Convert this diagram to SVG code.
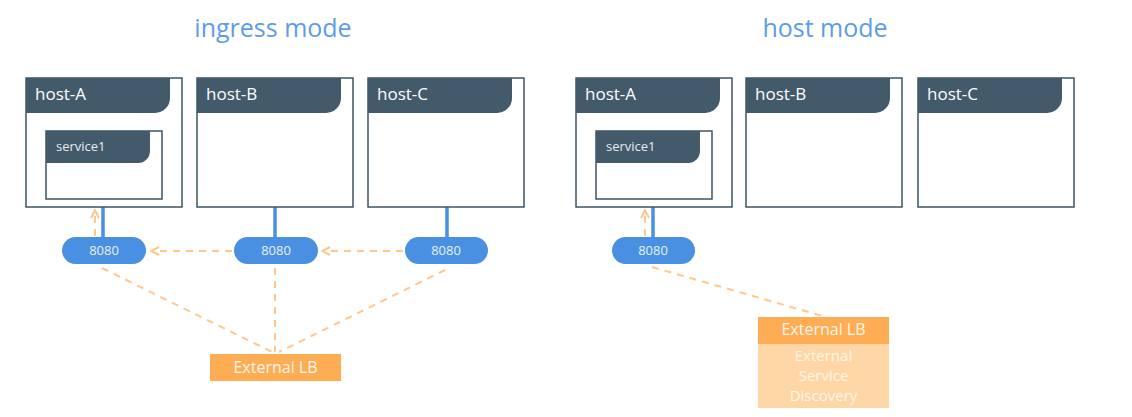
<svg xmlns="http://www.w3.org/2000/svg" width="1132" height="417" viewBox="0 0 1132 417">
<defs>
<style>
.title{font-family:"Open Sans","Liberation Sans",sans-serif;font-size:25px;fill:#5D9CE8;text-anchor:middle}
.host{fill:#fff;stroke:#3E5465;stroke-width:1.5}
.hdr{fill:#435A6B}
.hl{font-family:"Open Sans","Liberation Sans",sans-serif;font-size:17px;fill:#fff}
.sl{font-family:"Open Sans","Liberation Sans",sans-serif;font-size:13px;fill:#E6EBEF}
.pill{fill:#4A90E2}
.pt{font-family:"Open Sans","Liberation Sans",sans-serif;font-size:13px;fill:#E8F1FC;text-anchor:middle}
.blue{stroke:#4A90E2;stroke-width:3.5}
.dash{stroke:#FFC78C;stroke-width:2;stroke-dasharray:7 6;fill:none}
.lb{fill:#FFAD55}
.sd{fill:#FFD6A5}
.lt{font-family:"Open Sans","Liberation Sans",sans-serif;font-size:16px;fill:#FFF6EA;text-anchor:middle}
.st{font-family:"Open Sans","Liberation Sans",sans-serif;font-size:15px;fill:#FFF6EA;text-anchor:middle}
</style>
<marker id="ah" viewBox="0 0 10 10" refX="8" refY="5" markerWidth="5" markerHeight="5" orient="auto">
<path d="M1,1 L9,5 L1,9" fill="none" stroke="#FFC78C" stroke-width="2"/>
</marker>
</defs>
<text class="title" x="273" y="37">ingress mode</text>
<text class="title" x="825" y="37">host mode</text>

<g id="connectors">
<line class="blue" x1="103" y1="207" x2="103" y2="238"/>
<line class="blue" x1="275" y1="207" x2="275" y2="238"/>
<line class="blue" x1="447" y1="207" x2="447" y2="238"/>
<line class="blue" x1="653" y1="207" x2="653" y2="238"/>
<line class="dash" x1="95" y1="236" x2="95" y2="211" marker-end="url(#ah)"/>
<line class="dash" x1="232" y1="251" x2="152" y2="251" marker-end="url(#ah)"/>
<line class="dash" x1="403" y1="251" x2="323" y2="251" marker-end="url(#ah)"/>
<line class="dash" x1="102" y1="268" x2="272" y2="352"/>
<line class="dash" x1="275" y1="268" x2="275" y2="352"/>
<line class="dash" x1="445" y1="270" x2="279" y2="352"/>
<line class="dash" x1="645" y1="236" x2="645" y2="211" marker-end="url(#ah)"/>
<line class="dash" x1="652" y1="267" x2="826" y2="317"/>
</g>

<g id="ing-hostA">
<rect class="host" x="26" y="78" width="156" height="129"/>
<path class="hdr" d="M26,78 H170 V98 A15,15 0 0 1 155,113 H26 Z"/>
<text class="hl" x="35" y="100">host-A</text>
</g>
<g id="ing-service1">
<rect class="host" x="46" y="131" width="116" height="68"/>
<path class="hdr" d="M46,131 H150 V151 A12,12 0 0 1 138,163 H46 Z"/>
<text class="sl" x="56" y="151">service1</text>
</g>
<g id="ing-hostB">
<rect class="host" x="197" y="78" width="156" height="129"/>
<path class="hdr" d="M197,78 H341 V98 A15,15 0 0 1 326,113 H197 Z"/>
<text class="hl" x="206" y="100">host-B</text>
</g>
<g id="ing-hostC">
<rect class="host" x="368" y="78" width="156" height="129"/>
<path class="hdr" d="M368,78 H512 V98 A15,15 0 0 1 497,113 H368 Z"/>
<text class="hl" x="377" y="100">host-C</text>
</g>

<g id="ing-port1">
<rect class="pill" x="62" y="237" width="84" height="27" rx="13.5"/>
<text class="pt" x="104" y="255">8080</text>
</g>
<g id="ing-port2">
<rect class="pill" x="234" y="237" width="84" height="27" rx="13.5"/>
<text class="pt" x="276" y="255">8080</text>
</g>
<g id="ing-port3">
<rect class="pill" x="405" y="237" width="83" height="27" rx="13.5"/>
<text class="pt" x="446" y="255">8080</text>
</g>
<g id="ing-lb">
<rect class="lb" x="210" y="354" width="131" height="27"/>
<text class="lt" x="275.5" y="373">External LB</text>
</g>

<g id="host-hostA">
<rect class="host" x="576" y="78" width="156" height="129"/>
<path class="hdr" d="M576,78 H720 V98 A15,15 0 0 1 705,113 H576 Z"/>
<text class="hl" x="585" y="100">host-A</text>
</g>
<g id="host-service1">
<rect class="host" x="596" y="131" width="116" height="68"/>
<path class="hdr" d="M596,131 H700 V151 A12,12 0 0 1 688,163 H596 Z"/>
<text class="sl" x="606" y="151">service1</text>
</g>
<g id="host-hostB">
<rect class="host" x="746" y="78" width="156" height="129"/>
<path class="hdr" d="M746,78 H890 V98 A15,15 0 0 1 875,113 H746 Z"/>
<text class="hl" x="755" y="100">host-B</text>
</g>
<g id="host-hostC">
<rect class="host" x="918" y="78" width="156" height="129"/>
<path class="hdr" d="M918,78 H1062 V98 A15,15 0 0 1 1047,113 H918 Z"/>
<text class="hl" x="927" y="100">host-C</text>
</g>
<g id="host-port1">
<rect class="pill" x="612" y="237" width="83" height="27" rx="13.5"/>
<text class="pt" x="653" y="255">8080</text>
</g>
<g id="host-lb">
<rect class="lb" x="758" y="317" width="131" height="27"/>
<text class="lt" x="823.5" y="335">External LB</text>
</g>
<g id="host-sd">
<rect class="sd" x="758" y="344" width="131" height="64"/>
<text class="st" x="823.5" y="361">External</text>
<text class="st" x="823.5" y="381">Service</text>
<text class="st" x="823.5" y="401">Discovery</text>
</g>
</svg>
